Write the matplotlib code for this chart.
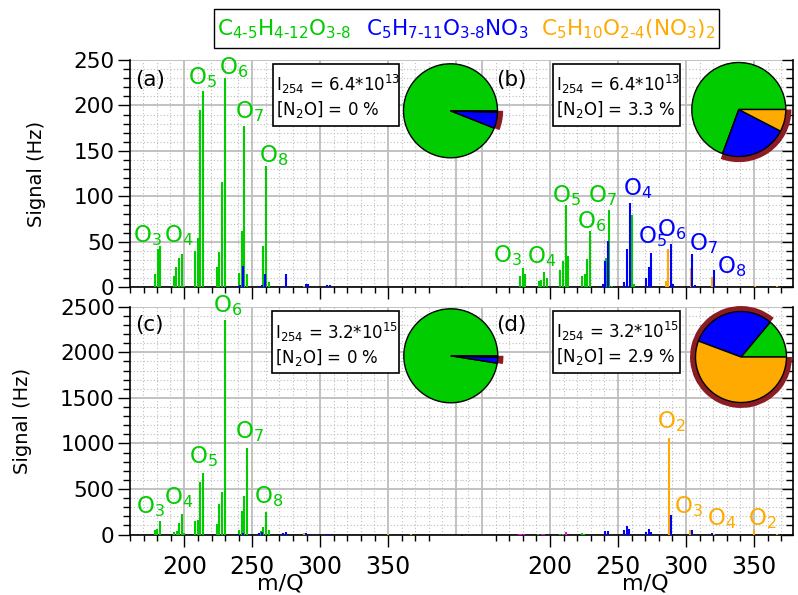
import matplotlib
matplotlib.use('Agg')
import matplotlib.pyplot as plt
from matplotlib.patches import Wedge, Rectangle
from matplotlib.ticker import MultipleLocator

plt.rcParams['font.family'] = 'DejaVu Sans'
plt.rcParams['mathtext.fontset'] = 'dejavusans'

GREEN = '#00CC00'
BLUE = '#0000FF'
ORANGE = '#FFAA00'
MAGENTA = '#FF00FF'
RING = '#8C1C24'

# ---- panel (a): I254 = 6.4e13, N2O 0 %
a_green_mz = [178.7, 180.7, 182.6, 192.4, 194.4, 196.3, 198.3, 200.2, 208.1, 210.1, 212.0, 214.0,
              224.0, 226.0, 227.9, 229.9, 240.4, 242.4, 244.3, 246.1, 258.3, 260.3, 262.3]
a_green_sig = [15, 42, 45, 12, 22, 32, 36.5, 1.3, 40, 54.5, 195, 216,
               22, 39, 116, 230, 16, 61.5, 177, 14, 45, 133, 6]
a_blue_mz = [239.5, 241.4, 243.2, 255.4, 257.4, 259.3, 273.0, 275.0, 289.7, 291.2, 305.0, 307.0]
a_blue_sig = [1.3, 2, 23, 1.3, 2, 15, 1.3, 15, 3.5, 3.5, 2, 2]
a_orange_mz = [288.2]
a_orange_sig = [1.5]

# ---- panel (b): I254 = 6.4e13, N2O 3.3 %
b_green_mz = [178.0, 180.0, 181.9, 191.7, 193.6, 195.6, 197.5, 207.6, 209.6, 211.5, 213.5,
              223.5, 225.5, 227.4, 229.4, 241.2, 243.6, 245.6, 260.0, 261.8, 273.5]
b_green_sig = [12.7, 21, 15, 7, 8, 17, 10, 19, 29, 90, 34,
               12, 15, 31, 62, 32, 85, 1.5, 79, 3.5, 4.3]
b_blue_mz = [238.7, 240.7, 242.6, 254.6, 256.6, 258.6, 270.6, 272.6, 274.5, 288.8, 290.8,
             304.6, 306.6, 320.6]
b_blue_sig = [3.2, 29, 51, 6, 42, 93, 10.5, 22, 38, 48, 3, 36, 2, 19]
b_orange_mz = [285.3, 286.8, 303.4, 319.4, 350.7, 366.7]
b_orange_sig = [7, 42, 21, 11.6, 1.2, 0.8]

# ---- panel (c): I254 = 3.2e15, N2O 0 %
c_green_mz = [178.7, 180.4, 182.4, 192.9, 194.6, 196.3, 198.3, 200.2, 208.3, 210.1, 212.0, 214.2,
              224.0, 226.0, 228.2, 230.4, 240.4, 242.4, 244.3, 246.3, 256.4, 258.3, 260.3, 262.3]
c_green_sig = [50, 58, 153, 25, 43, 127, 226, 14, 149, 160, 574, 672,
               116, 336, 467, 2354, 50, 255, 427, 950, 43, 78, 251, 48]
c_blue_mz = [239.5, 243.2, 255.4, 257.4, 273.0, 275.0, 289.5, 305.0, 307.0]
c_blue_sig = [12, 20, 15, 25, 15, 25, 20, 10, 12]
c_orange_mz = [288.0, 350.2, 367.0]
c_orange_sig = [15, 8, 8]

# ---- panel (d): I254 = 3.2e15, N2O 2.9 %
d_magenta_mz = [177.5, 179.0, 181.0, 193.9, 195.6, 211.5]
d_magenta_sig = [8, 8, 6, 6, 6, 32]
d_green_mz = [191.4, 207.5, 209.6, 223.3, 225.3]
d_green_sig = [5, 10, 12, 18, 6]
d_blue_mz = [240.3, 242.3, 254.6, 256.4, 258.3, 270.6, 272.6, 274.5, 288.7, 304.4, 319.3]
d_blue_sig = [40, 40, 50, 94, 65, 30, 62, 30, 215, 50, 15]
d_orange_mz = [287.7, 303.2, 320.5, 350.2, 366.6]
d_orange_sig = [1056, 50, 8, 50, 10]

# pie fractions: organic, mono-nitrate, di-nitrate
pie_a = [0.94, 0.055, 0.005]
pie_b = [0.694, 0.23, 0.076]
pie_c = [0.975, 0.02, 0.005]
pie_d = [0.139, 0.304, 0.557]

W, H = 798, 595
fig = plt.figure(figsize=(W / 100, H / 100), dpi=100)


def fbox(x0, y0, x1, y1):
    # pixel box (origin top left) -> figure rect
    return [x0 / W, 1 - y1 / H, (x1 - x0) / W, (y1 - y0) / H]


def style(ax, xlim, ylim, ystep, side, xlabels, xminor):
    ax.set_xlim(*xlim)
    ax.set_ylim(*ylim)
    ax.set_axisbelow(True)
    ax.xaxis.set_major_locator(MultipleLocator(50))
    ax.xaxis.set_minor_locator(MultipleLocator(10))
    ax.yaxis.set_major_locator(MultipleLocator(ystep))
    ax.yaxis.set_minor_locator(MultipleLocator(ystep / 5))
    ax.grid(which='major', color='#BDBDBD', lw=1.3, ls='-')
    ax.grid(which='minor', color='#BDBDBD', lw=0.8, ls=(0, (1, 2)))
    ax.tick_params(axis='x', which='both', length=0, labelbottom=False)
    ax.spines['top'].set_visible(False)
    ax.spines['bottom'].set_linewidth(1.2)
    if side == 'left':
        ax.spines['right'].set_visible(False)
        ax.spines['left'].set_linewidth(1.2)
        ax.tick_params(axis='y', which='major', direction='out', length=9, width=1,
                       labelsize=15.5, pad=2)
        ax.tick_params(axis='y', which='minor', direction='out', length=5, width=1)
        ax.set_ylabel('Signal (Hz)', fontsize=14, labelpad=20)
    else:
        ax.spines['left'].set_visible(False)
        ax.spines['right'].set_linewidth(1.2)
        ax.yaxis.tick_right()
        ax.tick_params(axis='y', which='major', direction='in', length=8, width=1,
                       labelright=False, labelleft=False)
        ax.tick_params(axis='y', which='minor', direction='in', length=5, width=1)
    tw = ax.twiny()
    tw.set_xlim(*xlim)
    tw.xaxis.set_ticks_position('bottom')
    tw.set_xticks([200, 250, 300, 350])
    tw.set_xticks(xminor, minor=True)
    tw.tick_params(axis='x', which='major', direction='out', length=8.5, width=1,
                   labelsize=17, labelbottom=xlabels, labeltop=False, pad=6)
    tw.tick_params(axis='x', which='minor', direction='out', length=4, width=1)
    for s in tw.spines.values():
        s.set_visible(False)


left_minor = [m for m in range(160, 390, 10) if m % 50]
right_minor = [m for m in range(160, 380, 10) if m % 50]
xl_left = (160.3, 404.4)
xl_right = (135.3, 378.7)

ax_a = fig.add_axes(fbox(130, 60, 462, 287.2))
ax_b = fig.add_axes(fbox(462, 60, 793, 287.2))
ax_c = fig.add_axes(fbox(130, 306.7, 462, 534.6))
ax_d = fig.add_axes(fbox(462, 306.7, 793, 534.6))

style(ax_a, xl_left, (0, 250), 50, 'left', False, left_minor)
style(ax_b, xl_right, (0, 250), 50, 'right', False, right_minor)
style(ax_c, xl_left, (0, 2500), 500, 'left', True, left_minor)
style(ax_d, xl_right, (0, 2500), 500, 'right', True, right_minor)

stick = dict(lw=1.5, capstyle='butt', zorder=3)
ax_a.vlines(a_orange_mz, 0, a_orange_sig, color=ORANGE, **stick)
ax_a.vlines(a_green_mz, 0, a_green_sig, color=GREEN, **stick)
ax_a.vlines(a_blue_mz, 0, a_blue_sig, color=BLUE, **stick)

ax_b.vlines(b_orange_mz, 0, b_orange_sig, color=ORANGE, **stick)
ax_b.vlines(b_green_mz, 0, b_green_sig, color=GREEN, **stick)
ax_b.vlines(b_blue_mz, 0, b_blue_sig, color=BLUE, **stick)

ax_c.vlines(c_orange_mz, 0, c_orange_sig, color=ORANGE, **stick)
ax_c.vlines(c_green_mz, 0, c_green_sig, color=GREEN, **stick)
ax_c.vlines(c_blue_mz, 0, c_blue_sig, color=BLUE, **stick)

ax_d.vlines(d_magenta_mz, 0, d_magenta_sig, color=MAGENTA, **stick)
ax_d.vlines(d_green_mz, 0, d_green_sig, color=GREEN, **stick)
ax_d.vlines(d_orange_mz, 0, d_orange_sig, color=ORANGE, **stick)
ax_d.vlines(d_blue_mz, 0, d_blue_sig, color=BLUE, **stick)

# peak group labels
lab = dict(ha='center', va='baseline', fontsize=16.5)
for ax, items in [
    (ax_a, [(173, 50, 3, GREEN), (196.3, 50, 4, GREEN), (213.6, 224, 5, GREEN),
            (236.5, 235, 6, GREEN), (248.5, 186, 7, GREEN), (266.2, 138, 8, GREEN)]),
    (ax_b, [(169, 28, 3, GREEN), (194, 26.3, 4, GREEN), (212, 94, 5, GREEN),
            (230.4, 65, 6, GREEN), (238.3, 94, 7, GREEN),
            (264.3, 101, 4, BLUE), (275.3, 48, 5, BLUE), (289.6, 56, 6, BLUE),
            (313.2, 41, 7, BLUE), (333.7, 15.3, 8, BLUE)]),
    (ax_c, [(175.6, 233, 3, GREEN), (196.3, 336, 4, GREEN), (214.7, 782, 5, GREEN),
            (232, 2445, 6, GREEN), (247.8, 1056, 7, GREEN), (262.5, 343, 8, GREEN)]),
    (ax_d, [(289.3, 1166, 2, ORANGE), (302.2, 233, 3, ORANGE), (326.5, 105, 4, ORANGE),
            (356.3, 105, 2, ORANGE)]),
]:
    for x, y, n, c in items:
        ax.text(x, y, r'O$_%d$' % n, color=c, **lab)

# panel letters
for x, y, s in [(135, 86, '(a)'), (496, 86, '(b)'), (135, 331, '(c)'), (496, 331, '(d)')]:
    fig.text(x / W, 1 - y / H, s, fontsize=15.5, va='baseline', ha='left')

# condition boxes
boxes = [
    (272.7, 64, 399.3, 126, '6.4', '13', '0'),
    (552.7, 64, 680, 126, '6.4', '13', '3.3'),
    (272.3, 311.5, 399.3, 372.7, '3.2', '15', '0'),
    (552.7, 310.7, 680, 372.7, '3.2', '15', '2.9'),
]
for x0, y0, x1, y1, i0, ex, n2o in boxes:
    fig.patches.append(Rectangle((x0 / W, 1 - y1 / H), (x1 - x0) / W, (y1 - y0) / H,
                                 transform=fig.transFigure, fc='white', ec='black', lw=1.2,
                                 zorder=5))
    fig.text((x0 + 3) / W, 1 - (y0 + 27.5) / H, r'I$_{254}$ = %s*10$^{%s}$' % (i0, ex),
             fontsize=12, va='baseline', zorder=6)
    fig.text((x0 + 3) / W, 1 - (y0 + 51) / H, r'[N$_2$O] = %s %%' % n2o,
             fontsize=12, va='baseline', zorder=6)


def pie(cx, cy, r, fracs):
    L = 1.2
    half = r * L
    ax = fig.add_axes(fbox(cx - half, cy - half, cx + half, cy + half))
    ax.pie(fracs, colors=[GREEN, BLUE, ORANGE], startangle=0, counterclock=True,
           wedgeprops=dict(edgecolor='black', linewidth=1))
    start = 360 * fracs[0] / sum(fracs)
    ax.add_patch(Wedge((0, 0), 1.12, start, 360, width=0.13, facecolor=RING,
                       edgecolor='none', zorder=0))
    ax.set_xlim(-L, L)
    ax.set_ylim(-L, L)
    ax.set_aspect('equal')
    ax.axis('off')


pie(450.5, 110.8, 47, pie_a)
pie(738.8, 109.5, 47, pie_b)
pie(450.8, 355.8, 47, pie_c)
pie(741, 357, 45.5, pie_d)

# legend box on top
fig.patches.append(Rectangle((214 / W, 1 - 48.3 / H), (719 - 214) / W, (48.3 - 9) / H,
                             transform=fig.transFigure, fc='white', ec='black', lw=1))
hy = '\u2010'
fig.text(217 / W, 1 - 35 / H, r'C$_{4%s5}$H$_{4%s12}$O$_{3%s8}$' % (hy, hy, hy),
         color=GREEN, fontsize=15.5, va='baseline')
fig.text(366 / W, 1 - 35 / H, r'C$_5$H$_{7%s11}$O$_{3%s8}$NO$_3$' % (hy, hy),
         color=BLUE, fontsize=15.5, va='baseline')
fig.text(541 / W, 1 - 35 / H, r'C$_5$H$_{10}$O$_{2%s4}$(NO$_3$)$_2$' % hy,
         color=ORANGE, fontsize=15.5, va='baseline')

fig.text(280 / W, 1 - 590 / H, 'm/Q', fontsize=16, ha='center', va='baseline')
fig.text(645 / W, 1 - 590 / H, 'm/Q', fontsize=16, ha='center', va='baseline')

fig.savefig('out.png', dpi=100)
